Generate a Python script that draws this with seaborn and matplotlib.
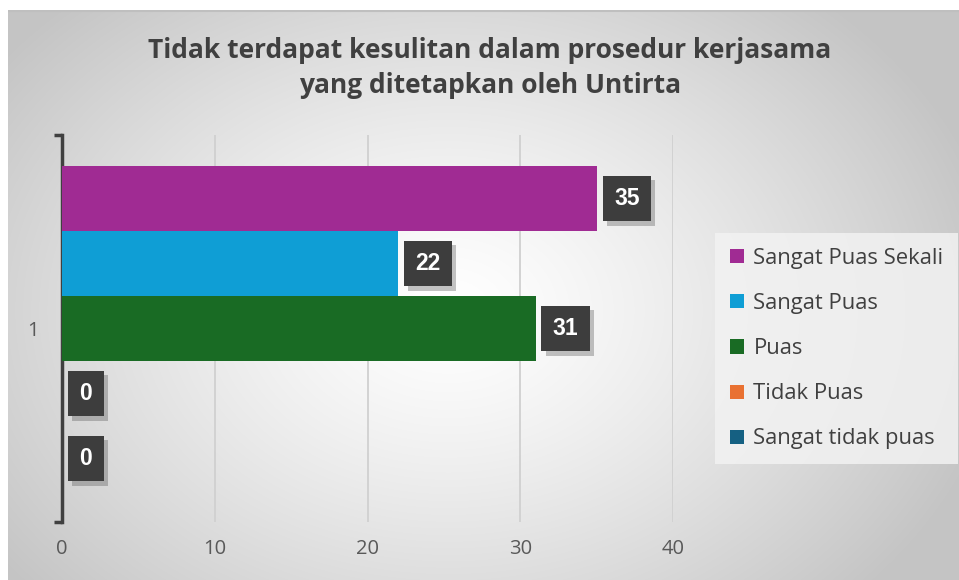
import numpy as np
import pandas as pd
import matplotlib
matplotlib.use("Agg")
import matplotlib.pyplot as plt
import matplotlib.patheffects as pe
import seaborn as sns

# ---- data ----
categories = ["1"]
series = ["Sangat Puas Sekali", "Sangat Puas", "Puas", "Tidak Puas", "Sangat tidak puas"]
values = [35, 22, 31, 0, 0]
colors = ["#A02B93", "#0F9ED5", "#196B24", "#E97132", "#156082"]
xticks = [0, 10, 20, 30, 40]
title = "Tidak terdapat kesulitan dalam prosedur kerjasama\nyang ditetapkan oleh Untirta"

df = pd.DataFrame({"cat": categories * len(series), "series": series, "val": values})

sns.set_theme(style="white")
plt.rcParams["font.family"] = ["Open Sans", "DejaVu Sans"]

W, H = 959, 580
fig = plt.figure(figsize=(W / 100, H / 100), dpi=100)
fig.patch.set_facecolor("white")

# radial gradient background
bg = fig.add_axes([8 / W, 0, (W - 8) / W, (H - 10) / H])
bg.set_axis_off()
yy, xx = np.mgrid[0:570, 0:951]
cx, cy = 440, 300
r = np.sqrt(((xx - cx) / 560.0) ** 2 + ((yy - cy) / 420.0) ** 2)
r = np.clip(r, 0, 1)
val = 1.0 - 0.23 * r ** 1.3
img = np.dstack([val, val, val])
bg.imshow(img, aspect="auto", extent=[0, 1, 0, 1], zorder=0)
bg.set_xlim(0, 1)
bg.set_ylim(0, 1)
bg.plot([0, 1], [0.998, 0.998], color="#bfbfbf", lw=1.5, transform=bg.transAxes)

ax = fig.add_axes([62 / W, 58 / H, 611 / W, 387 / H])
ax.patch.set_alpha(0)

sns.barplot(data=df, y="cat", x="val", hue="series", hue_order=series,
            palette=colors, orient="h", width=0.84, gap=0, ax=ax,
            saturation=1, legend=True, zorder=3, linewidth=0)

ax.set_xlim(0, 40)
ax.set_ylim(0.5, -0.5)
ax.set_xticks(xticks)
ax.set_xticklabels([str(t) for t in xticks])
ax.grid(axis="x", color="#d0d0d0", lw=1.3, zorder=0)
ax.set_axisbelow(True)
for s in ["top", "right", "bottom"]:
    ax.spines[s].set_visible(False)
ax.spines["left"].set_color("#404040")
ax.spines["left"].set_linewidth(2.5)
ax.set_yticks([0])
ax.set_yticklabels(categories)
ax.set_yticks([-0.5, 0.5], minor=True)
ax.tick_params(axis="y", which="major", left=False, length=0, pad=17, labelsize=14.5, labelcolor="#595959")
ax.tick_params(axis="y", which="minor", left=True, length=6, width=2.5, color="#404040", direction="out")
ax.tick_params(axis="x", length=0, pad=12, labelsize=14.5, labelcolor="#595959")
ax.set_xlabel("")
ax.set_ylabel("")

# data labels
for cont in ax.containers:
    for bar in cont:
        w = bar.get_width()
        yc = bar.get_y() + bar.get_height() / 2
        t = ax.annotate(f"{int(w)}", xy=(w, yc), xytext=(12.5, 0), textcoords="offset points",
                        ha="left", va="center", color="white", fontsize=16.5, fontweight="bold",
                        family=["Liberation Sans", "DejaVu Sans"],
                        bbox=dict(boxstyle="square,pad=0.5", fc="#3d3d3d", ec="none"), zorder=5)
        t.get_bbox_patch().set_path_effects([pe.SimplePatchShadow(offset=(3, -3), alpha=0.35, shadow_rgbFace="#555555"), pe.Normal()])

# legend
handles, labels = ax.get_legend_handles_labels()
leg = ax.legend(handles, labels, loc="upper left", bbox_to_anchor=(715 / W, (H - 233) / H),
                bbox_transform=fig.transFigure, frameon=True, fontsize=15.8,
                labelspacing=1.1, handlelength=0.62, handleheight=0.62, handletextpad=0.45,
                borderpad=0.68, fancybox=False, borderaxespad=0)
leg.get_frame().set_facecolor("#f2f2f2")
leg.get_frame().set_alpha(0.85)
leg.get_frame().set_edgecolor("none")
for txt in leg.get_texts():
    txt.set_color("#404040")

fig.text(490 / W, 1 - 68 / H, title, ha="center", va="center", fontsize=19,
         fontweight="bold", color="#404040", linespacing=1.36)

fig.savefig("out.png", dpi=100)
